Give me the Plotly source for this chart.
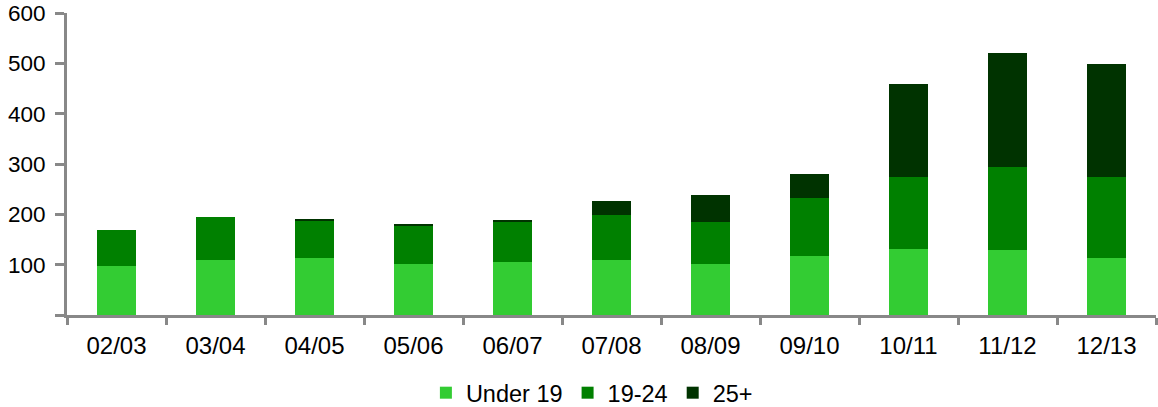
import plotly.graph_objects as go

categories = ["02/03", "03/04", "04/05", "05/06", "06/07", "07/08", "08/09", "09/10", "10/11", "11/12", "12/13"]
under19 = [98, 110, 114, 102, 106, 110, 102, 117, 132, 129, 113]
age19_24 = [70, 85, 74, 74, 78, 89, 82, 115, 142, 165, 161]
age25plus = [0, 0, 3, 4, 4, 27, 54, 49, 184, 227, 224]
y_ticks = [0, 100, 200, 300, 400, 500, 600]
y_ticktext = ["", "100", "200", "300", "400", "500", "600"]

series = [
    ("Under 19", under19, "#33CC33"),
    ("19-24", age19_24, "#008000"),
    ("25+", age25plus, "#003300"),
]

fig = go.Figure()
for name, vals, color in series:
    fig.add_trace(go.Bar(
        x=categories, y=vals, name=name,
        marker=dict(color=color, line=dict(width=0)),
    ))

axis_color = "#888888"
fig.update_layout(
    barmode="stack",
    bargap=0.6,
    width=1158, height=407,
    margin=dict(l=67, r=2, t=13, b=92, autoexpand=False),
    plot_bgcolor="white", paper_bgcolor="white",
    font=dict(family="Liberation Sans, Arial, sans-serif", size=22, color="black"),
    legend=dict(
        orientation="h", x=0.482, xanchor="center",
        y=-0.258, yanchor="middle",
        font=dict(size=23.5), traceorder="normal",
        itemwidth=30,
    ),
    xaxis=dict(
        automargin=False,
        showline=True, linecolor=axis_color, linewidth=3,
        ticks="outside", tickson="boundaries", ticklen=7, tickwidth=3, tickcolor=axis_color,
        ticklabelstandoff=7,
        tickfont=dict(size=24),
        showgrid=False, zeroline=False,
    ),
    yaxis=dict(
        automargin=False,
        range=[0, 600],
        tickvals=y_ticks, ticktext=y_ticktext,
        showline=True, linecolor=axis_color, linewidth=3,
        ticks="outside", ticklen=9, tickwidth=3, tickcolor=axis_color,
        ticklabelstandoff=5,
        tickfont=dict(size=22.5),
        showgrid=False, zeroline=False,
    ),
)

fig.write_html(
    "out.html",
    config={"displayModeBar": False},
    post_script="document.body.style.margin='0';document.body.style.overflow='hidden';",
)
